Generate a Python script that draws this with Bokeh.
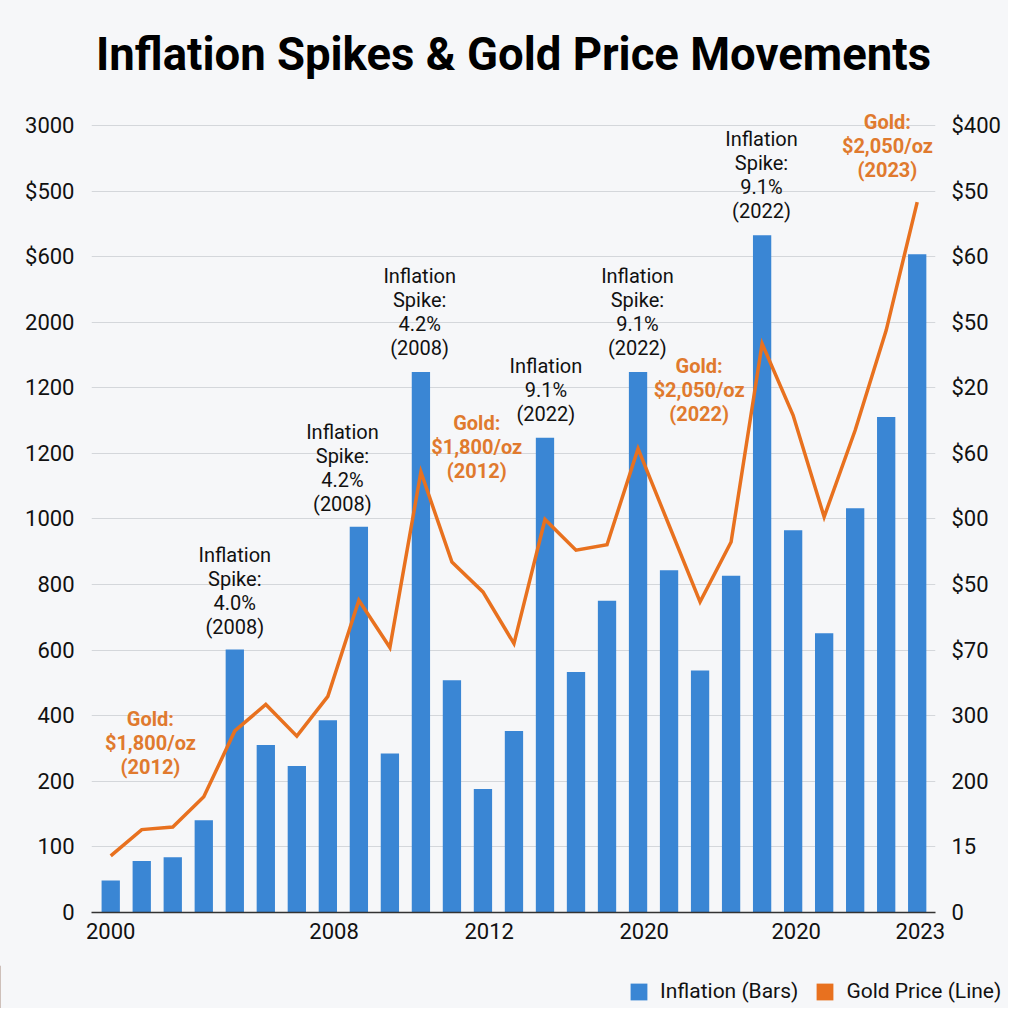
from bokeh.plotting import figure
from bokeh.layouts import column, row
from bokeh.models import (ColumnDataSource, FixedTicker, LinearAxis, Range1d,
                          Legend, LegendItem)
from bokeh.core.properties import value
from bokeh.embed import file_html
from bokeh.resources import INLINE

# ---------------- data ----------------
bar_index = list(range(27))
inflation_bars = [122, 196, 211, 352, 1002, 638, 558, 733, 1470, 606, 2060, 885,
                  471, 692, 1810, 917, 1188, 2060, 1305, 922, 1284, 2581, 1457,
                  1064, 1541, 1889, 2509]
gold_line = [216, 316, 326, 441, 692, 793, 672, 824, 1190, 1010, 1679, 1336,
             1222, 1025, 1498, 1381, 1402, 1768, 1476, 1184, 1412, 2168, 1895,
             1508, 1838, 2219, 2708]

y_ticks = [0, 250, 500, 750, 1000, 1250, 1500, 1750, 2000, 2250, 2500, 2750, 3000]
left_labels = ["0", "100", "200", "400", "600", "800", "1000", "1200", "1200",
               "2000", "$600", "$500", "3000"]
right_labels = ["0", "15", "200", "300", "$70", "$50", "$00", "$60", "$20",
                "$50", "$60", "$50", "$400"]

x_tick_pos = [0, 7.2, 12.2, 17.2, 22.1, 26.1]
x_tick_labels = ["2000", "2008", "2012", "2020", "2020", "2023"]

spike_x = [4.0, 7.47, 9.96, 14.03, 16.98, 20.98]
spike_y = [1224, 1696, 2289, 1990, 2289, 2811]
spike_text = ["Inflation\nSpike:\n4.0%\n(2008)",
              "Inflation\nSpike:\n4.2%\n(2008)",
              "Inflation\nSpike:\n4.2%\n(2008)",
              "Inflation\n9.1%\n(2022)",
              "Inflation\nSpike:\n9.1%\n(2022)",
              "Inflation\nSpike:\n9.1%\n(2022)"]

gold_x = [1.28, 11.8, 18.97, 25.04]
gold_y = [645, 1776, 1993, 2920]
gold_text = ["Gold:\n$1,800/oz\n(2012)",
             "Gold:\n$1,800/oz\n(2012)",
             "Gold:\n$2,050/oz\n(2022)",
             "Gold:\n$2,050/oz\n(2023)"]

title_text = "Inflation Spikes & Gold Price Movements"
legend_labels = ["Inflation (Bars)", "Gold Price (Line)"]

# ---------------- styles ----------------
BLUE = "#3a86d4"
ORANGE = "#e8711f"
ORANGE_TXT = "#e07a2e"
BG = "#f6f7f9"
FONT = "Roboto"

p = figure(width=1008, height=965, output_backend="svg", toolbar_location=None,
           x_range=Range1d(-0.62, 26.59), y_range=Range1d(0, 3076),
           min_border_left=91, min_border_right=73, min_border_top=105,
           min_border_bottom=53)
p.background_fill_color = BG
p.border_fill_color = BG
p.outline_line_color = None

p.title.text = title_text
p.title.align = "center"
p.title.text_font = FONT
p.title.text_font_style = "bold"
p.title.text_font_size = "45.5px"
p.title.text_color = "#000000"
p.title.standoff = 50

src = ColumnDataSource(dict(x=bar_index, infl=inflation_bars, gold=gold_line))
bars = p.vbar(x="x", top="infl", width=0.59, source=src, fill_color=BLUE,
              line_color=None)
p.line(x="x", y="gold", source=src, line_color=ORANGE, line_width=3.5,
       line_join="miter")

p.text(x=spike_x, y=spike_y, text=spike_text, text_align="center",
       text_baseline="middle", text_font=value(FONT), text_font_size="20px",
       text_color="#111111", text_line_height=1.0)
p.text(x=gold_x, y=gold_y, text=gold_text, text_align="center",
       text_baseline="middle", text_font=value(FONT), text_font_size="20px",
       text_font_style="bold", text_color=ORANGE_TXT, text_line_height=1.0)

# axes
def style_y(ax, standoff):
    ax.axis_line_color = None
    ax.major_tick_line_color = None
    ax.minor_tick_line_color = None
    ax.major_tick_out = 0
    ax.major_tick_in = 0
    ax.minor_tick_out = 0
    ax.major_label_standoff = standoff
    ax.major_label_text_font = FONT
    ax.major_label_text_font_size = "22px"
    ax.major_label_text_color = "#111111"

p.yaxis.ticker = FixedTicker(ticks=y_ticks)
p.yaxis.major_label_overrides = {t: l for t, l in zip(y_ticks, left_labels)}
style_y(p.yaxis[0], 17)

ry = LinearAxis(ticker=FixedTicker(ticks=y_ticks),
                major_label_overrides={t: l for t, l in zip(y_ticks, right_labels)})
style_y(ry, 16)
p.add_layout(ry, "right")

p.xaxis.ticker = FixedTicker(ticks=x_tick_pos)
p.xaxis.major_label_overrides = {t: l for t, l in zip(x_tick_pos, x_tick_labels)}
p.xaxis.axis_line_color = "#333333"
p.xaxis.axis_line_width = 1.5
p.xaxis.major_tick_line_color = None
p.xaxis.minor_tick_line_color = None
p.xaxis.major_tick_out = 0
p.xaxis.major_tick_in = 0
p.xaxis.minor_tick_out = 0
p.xaxis.major_label_standoff = 10
p.xaxis.major_label_text_font = FONT
p.xaxis.major_label_text_font_size = "22px"
p.xaxis.major_label_text_color = "#111111"

p.xgrid.grid_line_color = None
p.ygrid.ticker = FixedTicker(ticks=y_ticks)
p.ygrid.grid_line_color = "#d4d7db"
p.ygrid.grid_line_width = 1.2

# ---------------- legend strip below ----------------
lg = figure(width=1008, height=43, output_backend="svg", toolbar_location=None,
            x_axis_type=None, y_axis_type=None, min_border=0,
            min_border_left=0, min_border_right=0, min_border_top=0,
            min_border_bottom=0,
            x_range=Range1d(0, 1), y_range=Range1d(0, 1))
lg.background_fill_color = BG
lg.border_fill_color = BG
lg.outline_line_color = None
lg.xgrid.grid_line_color = None
lg.ygrid.grid_line_color = None
# legend swatches (kept outside the visible range)
r_blue = lg.vbar(x=[-5], top=[1], width=0.5, fill_color=BLUE, line_color=None)
r_orange = lg.vbar(x=[-5], top=[1], width=0.5, fill_color=ORANGE, line_color=None)

legend = Legend(items=[LegendItem(label=legend_labels[0], renderers=[r_blue]),
                       LegendItem(label=legend_labels[1], renderers=[r_orange])],
                orientation="horizontal", location=(628, 5))
legend.background_fill_alpha = 0
legend.border_line_color = None
legend.padding = 0
legend.margin = 0
legend.spacing = 16
legend.glyph_width = 21
legend.glyph_height = 21
legend.label_height = 21
legend.label_standoff = 11
legend.label_text_font = FONT
legend.label_text_font_size = "21px"
legend.label_text_color = "#111111"
lg.add_layout(legend, "center")

layout = column(p, row(lg, spacing=0, styles={"background-color": BG}),
                spacing=0, styles={"background-color": BG})
open("out.html", "w").write(file_html(layout, INLINE))
